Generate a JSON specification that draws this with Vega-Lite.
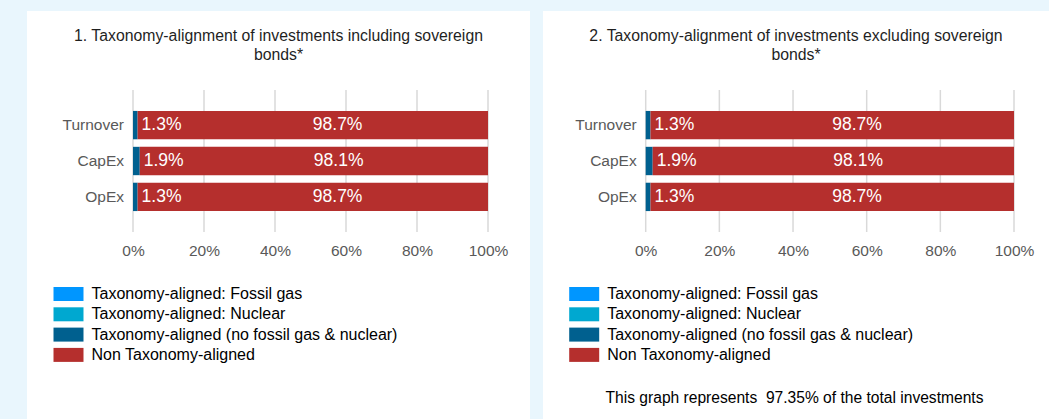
{
  "$schema": "https://vega.github.io/schema/vega-lite/v6.json",
  "background": "#e9f6fd",
  "padding": {"left": 27, "top": 11, "right": 0, "bottom": 0},
  "datasets": {
    "incl": [
      {"metric": "Turnover", "category": "Taxonomy-aligned: Fossil gas", "value": 0},
      {"metric": "Turnover", "category": "Taxonomy-aligned: Nuclear", "value": 0},
      {"metric": "Turnover", "category": "Taxonomy-aligned (no fossil gas & nuclear)", "value": 0.013},
      {"metric": "Turnover", "category": "Non Taxonomy-aligned", "value": 0.987},
      {"metric": "CapEx", "category": "Taxonomy-aligned: Fossil gas", "value": 0},
      {"metric": "CapEx", "category": "Taxonomy-aligned: Nuclear", "value": 0},
      {"metric": "CapEx", "category": "Taxonomy-aligned (no fossil gas & nuclear)", "value": 0.019},
      {"metric": "CapEx", "category": "Non Taxonomy-aligned", "value": 0.981},
      {"metric": "OpEx", "category": "Taxonomy-aligned: Fossil gas", "value": 0},
      {"metric": "OpEx", "category": "Taxonomy-aligned: Nuclear", "value": 0},
      {"metric": "OpEx", "category": "Taxonomy-aligned (no fossil gas & nuclear)", "value": 0.013},
      {"metric": "OpEx", "category": "Non Taxonomy-aligned", "value": 0.987}
    ],
    "excl": [
      {"metric": "Turnover", "category": "Taxonomy-aligned: Fossil gas", "value": 0},
      {"metric": "Turnover", "category": "Taxonomy-aligned: Nuclear", "value": 0},
      {"metric": "Turnover", "category": "Taxonomy-aligned (no fossil gas & nuclear)", "value": 0.013},
      {"metric": "Turnover", "category": "Non Taxonomy-aligned", "value": 0.987},
      {"metric": "CapEx", "category": "Taxonomy-aligned: Fossil gas", "value": 0},
      {"metric": "CapEx", "category": "Taxonomy-aligned: Nuclear", "value": 0},
      {"metric": "CapEx", "category": "Taxonomy-aligned (no fossil gas & nuclear)", "value": 0.019},
      {"metric": "CapEx", "category": "Non Taxonomy-aligned", "value": 0.981},
      {"metric": "OpEx", "category": "Taxonomy-aligned: Fossil gas", "value": 0},
      {"metric": "OpEx", "category": "Taxonomy-aligned: Nuclear", "value": 0},
      {"metric": "OpEx", "category": "Taxonomy-aligned (no fossil gas & nuclear)", "value": 0.013},
      {"metric": "OpEx", "category": "Non Taxonomy-aligned", "value": 0.987}
    ],
    "ticks": [{"tick": 0}, {"tick": 0.2}, {"tick": 0.4}, {"tick": 0.6}, {"tick": 0.8}, {"tick": 1}]
  },
  "spacing": 13,
  "resolve": {
    "scale": {"x": "independent", "y": "independent", "color": "independent"},
    "legend": {"color": "independent"}
  },
  "hconcat": [
    {
      "width": 503,
      "height": 408,
      "data": {"name": "incl"},
      "title": {"text": ["1. Taxonomy-alignment of investments including sovereign", "bonds*"], "offset": -53},
      "resolve": {"scale": {"y": "independent"}, "axis": {"y": "independent"}},
      "layer": [
        {
          "data": {"name": "ticks"},
          "mark": {"type": "rule", "color": "#d9d9d9", "strokeWidth": 1.5},
          "encoding": {
            "x": {"field": "tick", "type": "quantitative"},
            "y": {"datum": 0, "type": "quantitative", "scale": {"domain": [0, 1], "range": [79, 221], "nice": false, "zero": false}, "axis": null},
            "y2": {"datum": 1}
          }
        },
        {
          "mark": {"type": "bar"},
          "encoding": {
            "y": {
              "field": "metric", "type": "nominal", "sort": ["Turnover", "CapEx", "OpEx"],
              "scale": {"type": "band", "range": [79, 221], "paddingInner": 0.21, "paddingOuter": 0.583},
              "axis": {"title": null, "domain": false, "ticks": false, "labelPadding": 9.5, "offset": -106}
            },
            "x": {
              "field": "value", "type": "quantitative", "stack": "zero",
              "scale": {"domain": [0, 1], "range": [106, 461], "nice": false},
              "axis": {"values": [0, 0.2, 0.4, 0.6, 0.8, 1], "format": ".0%", "grid": false, "domain": false, "ticks": false, "labelPadding": 0, "labelFlush": false, "offset": -176, "title": null}
            },
            "color": {
              "field": "category", "type": "nominal",
              "scale": {
                "domain": ["Taxonomy-aligned: Fossil gas", "Taxonomy-aligned: Nuclear", "Taxonomy-aligned (no fossil gas & nuclear)", "Non Taxonomy-aligned"],
                "range": ["#0096ff", "#00a8d0", "#00608f", "#b52f2d"]
              },
              "legend": {"orient": "none", "legendX": 33.5, "legendY": 275}
            },
            "order": {"field": "category", "sort": "descending"}
          }
        },
        {
          "transform": [{"filter": "datum.category === 'Taxonomy-aligned (no fossil gas & nuclear)'"}],
          "mark": {"type": "text", "align": "left", "baseline": "middle", "dx": 4, "color": "white", "fontSize": 17.5},
          "encoding": {
            "y": {"field": "metric", "type": "nominal", "sort": ["Turnover", "CapEx", "OpEx"], "scale": {"type": "band", "range": [79, 221], "paddingInner": 0.21, "paddingOuter": 0.583}, "axis": null},
            "x": {"field": "value", "type": "quantitative"},
            "text": {"field": "value", "type": "quantitative", "format": ".1%"}
          }
        },
        {
          "transform": [
            {"stack": "value", "groupby": ["metric"], "sort": [{"field": "category", "order": "descending"}], "as": ["v0", "v1"]},
            {"filter": "datum.category === 'Non Taxonomy-aligned'"},
            {"fold": ["v0", "v1"], "as": ["edge", "pos"]}
          ],
          "mark": {"type": "text", "align": "left", "baseline": "middle", "color": "white", "fontSize": 17.5},
          "encoding": {
            "y": {"field": "metric", "type": "nominal", "sort": ["Turnover", "CapEx", "OpEx"], "scale": {"type": "band", "range": [79, 221], "paddingInner": 0.21, "paddingOuter": 0.583}, "axis": null},
            "x": {"aggregate": "mean", "field": "pos", "type": "quantitative"},
            "text": {"field": "value", "type": "quantitative", "format": ".1%"}
          }
        }
      ]
    },
    {
      "width": 506,
      "height": 408,
      "data": {"name": "excl"},
      "title": {"text": ["2. Taxonomy-alignment of investments excluding sovereign", "bonds*"], "offset": -53},
      "resolve": {"scale": {"y": "independent"}, "axis": {"y": "independent"}},
      "layer": [
        {
          "data": {"name": "ticks"},
          "mark": {"type": "rule", "color": "#d9d9d9", "strokeWidth": 1.5},
          "encoding": {
            "x": {"field": "tick", "type": "quantitative"},
            "y": {"datum": 0, "type": "quantitative", "scale": {"domain": [0, 1], "range": [79, 221], "nice": false, "zero": false}, "axis": null},
            "y2": {"datum": 1}
          }
        },
        {
          "mark": {"type": "bar"},
          "encoding": {
            "y": {
              "field": "metric", "type": "nominal", "sort": ["Turnover", "CapEx", "OpEx"],
              "scale": {"type": "band", "range": [79, 221], "paddingInner": 0.21, "paddingOuter": 0.583},
              "axis": {"title": null, "domain": false, "ticks": false, "labelPadding": 9.5, "offset": -102.7}
            },
            "x": {
              "field": "value", "type": "quantitative", "stack": "zero",
              "scale": {"domain": [0, 1], "range": [102.7, 471], "nice": false},
              "axis": {"values": [0, 0.2, 0.4, 0.6, 0.8, 1], "format": ".0%", "grid": false, "domain": false, "ticks": false, "labelPadding": 0, "labelFlush": false, "offset": -176,
                "title": "This graph represents \u00a097.35% of the total investments",
                "titleX": 251, "titleY": 154, "titleAlign": "center", "titleBaseline": "middle", "titleFontSize": 15.6, "titleFontWeight": "normal", "titleColor": "#000000"}
            },
            "color": {
              "field": "category", "type": "nominal",
              "scale": {
                "domain": ["Taxonomy-aligned: Fossil gas", "Taxonomy-aligned: Nuclear", "Taxonomy-aligned (no fossil gas & nuclear)", "Non Taxonomy-aligned"],
                "range": ["#0096ff", "#00a8d0", "#00608f", "#b52f2d"]
              },
              "legend": {"orient": "none", "legendX": 33.2, "legendY": 275}
            },
            "order": {"field": "category", "sort": "descending"}
          }
        },
        {
          "transform": [{"filter": "datum.category === 'Taxonomy-aligned (no fossil gas & nuclear)'"}],
          "mark": {"type": "text", "align": "left", "baseline": "middle", "dx": 4, "color": "white", "fontSize": 17.5},
          "encoding": {
            "y": {"field": "metric", "type": "nominal", "sort": ["Turnover", "CapEx", "OpEx"], "scale": {"type": "band", "range": [79, 221], "paddingInner": 0.21, "paddingOuter": 0.583}, "axis": null},
            "x": {"field": "value", "type": "quantitative"},
            "text": {"field": "value", "type": "quantitative", "format": ".1%"}
          }
        },
        {
          "transform": [
            {"stack": "value", "groupby": ["metric"], "sort": [{"field": "category", "order": "descending"}], "as": ["v0", "v1"]},
            {"filter": "datum.category === 'Non Taxonomy-aligned'"},
            {"fold": ["v0", "v1"], "as": ["edge", "pos"]}
          ],
          "mark": {"type": "text", "align": "left", "baseline": "middle", "color": "white", "fontSize": 17.5},
          "encoding": {
            "y": {"field": "metric", "type": "nominal", "sort": ["Turnover", "CapEx", "OpEx"], "scale": {"type": "band", "range": [79, 221], "paddingInner": 0.21, "paddingOuter": 0.583}, "axis": null},
            "x": {"aggregate": "mean", "field": "pos", "type": "quantitative"},
            "text": {"field": "value", "type": "quantitative", "format": ".1%"}
          }
        }
      ]
    }
  ],
  "config": {
    "font": "Liberation Sans",
    "view": {"fill": "white", "stroke": null},
    "title": {"fontSize": 15.8, "fontWeight": "normal", "color": "#1f1f1f", "lineHeight": 19, "anchor": "middle", "frame": "group"},
    "axis": {"labelFontSize": 15.5, "labelColor": "#595959"},
    "legend": {
      "title": null, "symbolType": "M-2,-0.933H2V0.933H-2Z", "symbolSize": 225, "symbolStrokeWidth": 0, "symbolOpacity": 1,
      "labelFontSize": 16, "labelColor": "#000000", "labelOffset": 15, "rowPadding": 4.3, "padding": 0, "labelLimit": 400
    },
    "text": {"font": "Liberation Sans"}
  }
}
